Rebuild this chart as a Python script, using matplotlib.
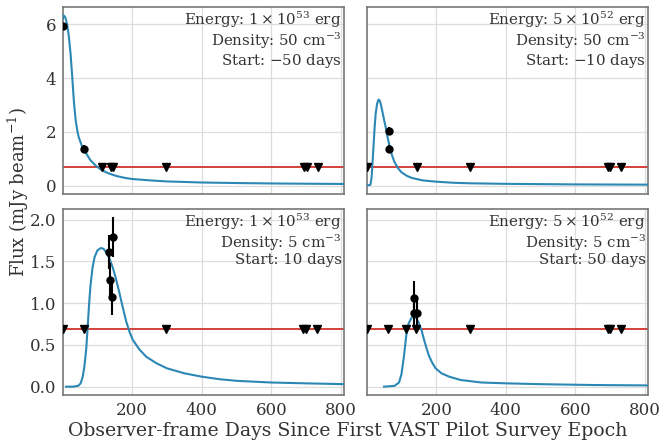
import matplotlib
matplotlib.use('Agg')
import matplotlib.pyplot as plt

plt.rcParams['font.family'] = 'DejaVu Serif'
plt.rcParams['mathtext.fontset'] = 'dejavuserif'

# model light curves (days, mJy/beam)
tl_t = [0, 4, 8, 13, 18, 23, 28, 33, 38, 43, 47, 55, 67, 80, 95, 110, 130, 155, 180, 200, 250, 300, 400, 500, 600, 700, 810]
tl_f = [6.2, 6.32, 6.25, 6.0, 5.55, 4.9, 4.0, 3.05, 2.4, 2.0, 1.78, 1.5, 1.22, 0.95, 0.75, 0.6, 0.47, 0.36, 0.29, 0.25, 0.2, 0.16, 0.12, 0.1, 0.085, 0.075, 0.065]
tr_t = [0, 8, 11, 14, 17, 20, 23, 26, 30, 34, 38, 42, 46, 50, 55, 60, 65, 70, 75, 80, 90, 100, 115, 130, 160, 200, 250, 300, 400, 500, 600, 700, 810]
tr_f = [0.02, 0.02, 0.05, 0.3, 0.9, 1.55, 2.2, 2.7, 3.05, 3.2, 3.15, 2.95, 2.7, 2.45, 2.15, 1.8, 1.52, 1.25, 1.05, 0.88, 0.65, 0.5, 0.37, 0.29, 0.2, 0.15, 0.11, 0.09, 0.07, 0.06, 0.05, 0.045, 0.04]
bl_t = [10, 30, 45, 52, 58, 63, 68, 72, 76, 80, 86, 92, 100, 110, 118, 125, 135, 144, 153, 163, 173, 183, 193, 202, 220, 240, 270, 300, 350, 400, 450, 500, 600, 700, 810]
bl_f = [0.0, 0.0, 0.01, 0.04, 0.12, 0.25, 0.45, 0.7, 0.97, 1.2, 1.42, 1.55, 1.63, 1.66, 1.65, 1.61, 1.53, 1.43, 1.3, 1.13, 0.95, 0.78, 0.65, 0.56, 0.45, 0.36, 0.28, 0.22, 0.16, 0.12, 0.09, 0.07, 0.05, 0.04, 0.03]
br_t = [50, 80, 93, 100, 107, 114, 120, 128, 136, 143, 150, 158, 165, 172, 179, 188, 198, 215, 237, 270, 330, 400, 500, 650, 810]
br_f = [0.0, 0.01, 0.05, 0.15, 0.36, 0.62, 0.75, 0.82, 0.85, 0.82, 0.76, 0.67, 0.56, 0.46, 0.37, 0.29, 0.22, 0.16, 0.12, 0.08, 0.05, 0.04, 0.03, 0.02, 0.015]

# detections
tl_dt = [0, 62]
tl_df = [5.93, 1.38]
tl_de = [0.12, 0.15]
tr_dt = [64, 64]
tr_df = [2.02, 1.38]
tr_de = [0.15, 0.15]
bl_dt = [134, 137, 141, 144]
bl_df = [1.61, 1.28, 1.07, 1.79]
bl_de = [0.2, 0.2, 0.21, 0.24]
br_dt = [136, 136, 145]
br_df = [1.06, 0.88, 0.88]
br_de = [0.21, 0.15, 0.15]

# upper limits
tl_ul = [113, 140, 144, 296, 694, 702, 733]
tr_ul = [0, 145, 297, 695, 700, 731]
bl_ul = [0, 62, 296, 692, 700, 731]
br_ul = [0, 62, 113, 141, 297, 695, 700, 731]
limit = 0.69

labels = [
    [r'Energy: $1\times10^{53}$ erg', r'Density: 50 cm$^{-3}$', r'Start: $-$50 days'],
    [r'Energy: $5\times10^{52}$ erg', r'Density: 50 cm$^{-3}$', r'Start: $-$10 days'],
    [r'Energy: $1\times10^{53}$ erg', r'Density: 5 cm$^{-3}$', r'Start: 10 days'],
    [r'Energy: $5\times10^{52}$ erg', r'Density: 5 cm$^{-3}$', r'Start: 50 days'],
]
panels = [
    (tl_t, tl_f, tl_dt, tl_df, tl_de, tl_ul),
    (tr_t, tr_f, tr_dt, tr_df, tr_de, tr_ul),
    (bl_t, bl_f, bl_dt, bl_df, bl_de, bl_ul),
    (br_t, br_f, br_dt, br_df, br_de, br_ul),
]

fig, axes = plt.subplots(2, 2, figsize=(6.59, 4.45), dpi=100, sharex=True, sharey='row')
fig.subplots_adjust(left=0.096, right=0.984, top=0.984, bottom=0.112, wspace=0.082, hspace=0.08)

for ax, (t, f, dt, df, de, ul), lab in zip(axes.flat, panels, labels):
    ax.axhline(limit, color='#d0342c', lw=1.3, zorder=2)
    ax.plot(t, f, color='#2b88b5', lw=1.5, zorder=3)
    ax.errorbar(dt, df, yerr=de, fmt='o', color='k', ms=5, elinewidth=1.5, capsize=0, zorder=4)
    ax.plot(ul, [limit] * len(ul), 'v', color='k', ms=5.5, zorder=4)
    ax.text(0.99, 0.985, '\n'.join(lab), transform=ax.transAxes, ha='right', va='top',
            fontsize=10.8, linespacing=1.05, color='#333333')
    ax.grid(True, color='#dddddd', lw=0.9)
    ax.set_axisbelow(True)
    ax.tick_params(length=0, labelsize=12, pad=5, colors='#333333')
    for s in ax.spines.values():
        s.set_color('#777777')
        s.set_linewidth(1.2)

axes[0, 0].set_xlim(2, 810)
axes[0, 0].set_xticks([200, 400, 600, 800])
axes[0, 0].set_yticks([0, 2, 4, 6])
axes[1, 0].set_yticks([0.0, 0.5, 1.0, 1.5, 2.0])

fig.text(0.028, 0.568, r'Flux (mJy beam$^{-1}$)', rotation=90, ha='center', va='center', fontsize=13, color='#333333')
fig.text(0.528, 0.032, 'Observer-frame Days Since First VAST Pilot Survey Epoch', ha='center', va='center', fontsize=13.6, color='#333333')

fig.savefig('out.png', dpi=100)
